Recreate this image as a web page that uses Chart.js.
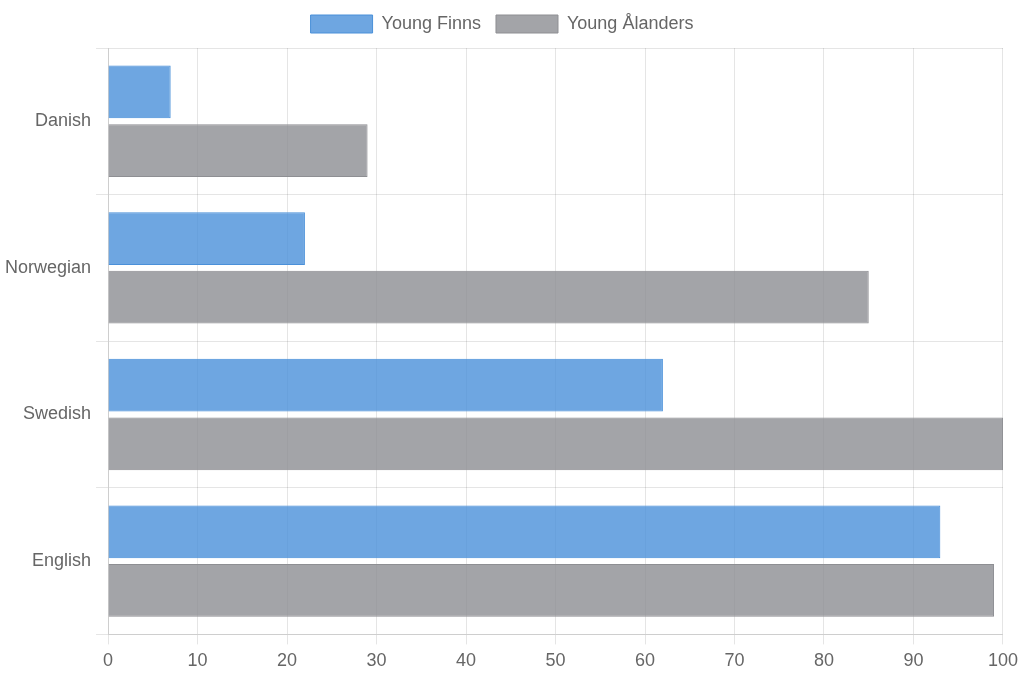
<!DOCTYPE html>
<html>
<head>
<meta charset="utf-8">
<script src="https://cdn.jsdelivr.net/npm/chart.js@4"></script>
<style>
  html, body { margin: 0; padding: 0; background: #fff; }
  #wrap { width: 1024px; height: 678px; }
</style>
</head>
<body>
<div id="wrap"><canvas id="bar-chartcanvas"></canvas></div>
<script>
var languages = ["Danish", "Norwegian", "Swedish", "English"];
var youngFinns = [7, 22, 62, 93];
var youngAlanders = [29, 85, 100, 99];

Chart.defaults.font.family = "'Liberation Sans', Arial, sans-serif";
Chart.defaults.font.size = 18;
Chart.defaults.color = "#666";

var ctx = document.getElementById("bar-chartcanvas");

var data = {
    labels : languages,
    datasets : [
        {
            label : "Young Finns",
            data : youngFinns,
            backgroundColor : "rgba(74,144,217,0.8)",
            borderColor : "#4a90d9",
            borderWidth : 1
        },
        {
            label : "Young Ålanders",
            data : youngAlanders,
            backgroundColor : "rgba(140,141,146,0.8)",
            borderColor : "#8e8f93",
            borderWidth : 1
        }
    ]
};

var options = {
    indexAxis : "y",
    responsive : true,
    maintainAspectRatio : false,
    animation : false,
    layout : { padding : { top : 0, right : 20, bottom : 0 } },
    plugins : {
        legend : {
            display : true,
            position : "top",
            labels : { boxWidth : 62, boxHeight : 18, padding : 15 }
        },
        tooltip : { enabled : false }
    },
    scales : {
        x : {
            min : 0,
            max : 100,
            ticks : { stepSize : 10, padding : 6 },
            grid : { color : "rgba(0,0,0,0.1)", tickLength : 10 }
        },
        y : {
            ticks : { padding : 5 },
            grid : { color : "rgba(0,0,0,0.1)", tickLength : 12 }
        }
    }
};

// extra space between legend and plot
var legendGap = {
    id : "legendGap",
    beforeInit : function(chart) {
        var fit = chart.legend.fit;
        chart.legend.fit = function() {
            fit.bind(chart.legend)();
            this.height += 5;
        };
    }
};

new Chart(ctx, {
    type : "bar",
    data : data,
    options : options,
    plugins : [legendGap]
});
</script>
</body>
</html>
